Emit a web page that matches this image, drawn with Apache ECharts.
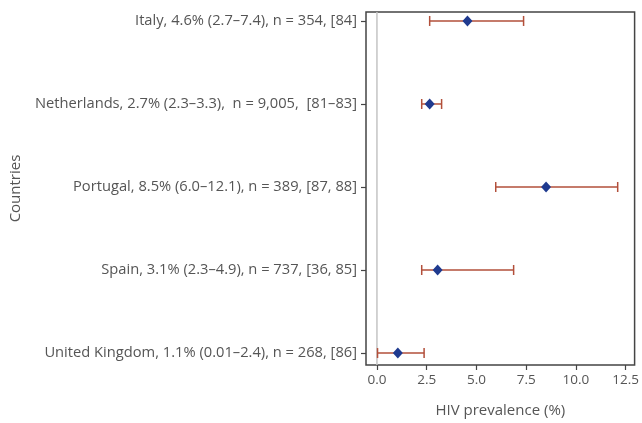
<!DOCTYPE html>
<html>
<head>
<meta charset="utf-8">
<script src="https://cdn.jsdelivr.net/npm/echarts@6/dist/echarts.min.js"></script>
<style>html,body{margin:0;padding:0;background:#fff}#c{width:642px;height:423px}</style>
</head>
<body>
<div id="c"></div>
<script>
const categories = [
  'Italy, 4.6% (2.7\u20137.4), n = 354, [84]',
  'Netherlands, 2.7% (2.3\u20133.3),  n = 9,005,  [81\u201383]',
  'Portugal, 8.5% (6.0\u201312.1), n = 389, [87, 88]',
  'Spain, 3.1% (2.3\u20134.9), n = 737, [36, 85]',
  'United Kingdom, 1.1% (0.01\u20132.4), n = 268, [86]'
];
const estimates = [4.55, 2.65, 8.5, 3.05, 1.05];
const lowerCI = [2.65, 2.25, 5.97, 2.25, 0.03];
const upperCI = [7.37, 3.25, 12.1, 6.87, 2.37];
const xTicks = [0, 2.5, 5, 7.5, 10, 12.5];

const font = 'Open Sans';
const txt = '#555';
const chart = echarts.init(document.getElementById('c'));
chart.setOption({
  animation: false,
  grid: {left: 366, right: 7, top: 12, bottom: 57, show: true, borderColor: '#444', borderWidth: 1.5, containLabel: false},
  xAxis: {
    type: 'value', min: -0.55, max: 12.95,
    name: 'HIV prevalence (%)', nameLocation: 'middle', nameGap: 38,
    nameTextStyle: {color: txt, fontFamily: font, fontSize: 15},
    axisLine: {show: false, onZero: false},
    splitLine: {show: false},
    axisTick: {show: true, length: 5, lineStyle: {color: '#444', width: 1.2}, customValues: xTicks},
    axisLabel: {color: txt, fontFamily: font, fontSize: 13.5, margin: 8, customValues: xTicks,
      formatter: v => v.toFixed(1)}
  },
  yAxis: {
    type: 'value', min: -0.108, max: 4.144, inverse: true,
    name: 'Countries', nameLocation: 'middle', nameGap: 343, nameRotate: 90,
    nameTextStyle: {color: txt, fontFamily: font, fontSize: 15},
    axisLine: {show: false, onZero: false},
    splitLine: {show: false},
    axisTick: {show: true, length: 5, lineStyle: {color: '#444', width: 1.2}, customValues: [0,1,2,3,4]},
    axisLabel: {color: txt, fontFamily: font, fontSize: 14.7, margin: 9, customValues: [0,1,2,3,4],
      formatter: v => categories[Math.round(v)]}
  },
  series: [
    {
      type: 'line', data: [[0, -0.108], [0, 4.144]], symbol: 'none', silent: true,
      lineStyle: {color: '#c4c4c4', width: 1.5}, z: 1
    },
    {
      type: 'custom', z: 2,
      data: categories.map((c, i) => [lowerCI[i], upperCI[i], i]),
      renderItem: function (params, api) {
        const lo = api.coord([api.value(0), api.value(2)]);
        const hi = api.coord([api.value(1), api.value(2)]);
        const h = 5;
        const st = {stroke: '#b24f3a', lineWidth: 1.5};
        return {type: 'group', children: [
          {type: 'line', shape: {x1: lo[0], y1: lo[1], x2: hi[0], y2: hi[1]}, style: st},
          {type: 'line', shape: {x1: lo[0], y1: lo[1] - h, x2: lo[0], y2: lo[1] + h}, style: st},
          {type: 'line', shape: {x1: hi[0], y1: hi[1] - h, x2: hi[0], y2: hi[1] + h}, style: st}
        ]};
      }
    },
    {
      type: 'scatter', z: 3,
      data: estimates.map((v, i) => [v, i]),
      symbol: 'diamond', symbolSize: [10, 11],
      itemStyle: {color: '#1f3a8f', opacity: 1}
    }
  ]
});
</script>
</body>
</html>
